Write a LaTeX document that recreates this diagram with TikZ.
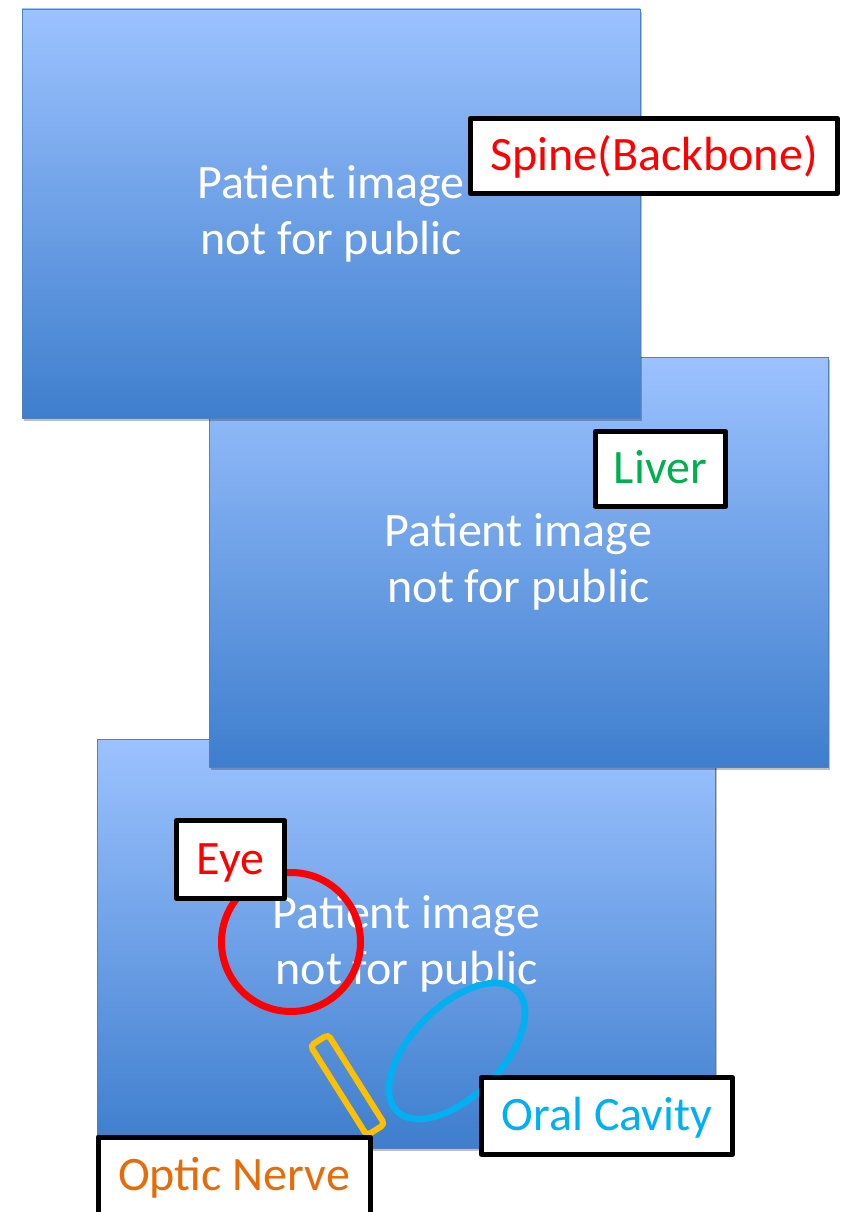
\documentclass[tikz,border=0pt]{standalone}
\usepackage{fontspec}
\setmainfont{Carlito}
\usetikzlibrary{shapes.geometric,shadows}
\definecolor{bluetop}{RGB}{156,194,255}
\definecolor{bluebot}{RGB}{62,126,205}
\definecolor{blueedge}{RGB}{79,129,189}
\definecolor{labred}{RGB}{255,0,0}
\definecolor{labgreen}{RGB}{0,176,80}
\definecolor{labcyan}{RGB}{0,176,240}
\definecolor{laborange}{RGB}{228,108,10}
\definecolor{nerveyellow}{RGB}{255,192,0}
\tikzset{
  imgbox/.style={rectangle, inner sep=0pt, minimum width=618pt, minimum height=409pt,
    top color=bluetop, bottom color=bluebot, draw=blueedge, line width=0.8pt,
    drop shadow={shadow xshift=1.5pt, shadow yshift=-3pt, opacity=0.25, fill=black},
    text=white, align=center, font=\fontsize{48}{56}\selectfont},
  labelbox/.style={rectangle, draw=black, fill=white, line width=5pt, line join=round,
    inner sep=0pt, minimum height=75pt, text height=37pt, text depth=8pt,
    font=\fontsize{48}{56}\selectfont},
}
\begin{document}
\begin{tikzpicture}[x=1pt,y=-1pt]
\useasboundingbox[fill=white] (0,0) rectangle (843,1212);
% image panels (bottom one first so upper ones overlap it)
\node[imgbox] (img3) at (406.5,943.5) {Patient image\\not for public};
\node[imgbox, minimum width=619pt, minimum height=410pt] (img2) at (518.5,562) {Patient image\\not for public};
\node[imgbox] (img1) at (331,213.5) {Patient image\\not for public};
% organ outlines
\node[ellipse, draw=labred, line width=7pt, minimum width=139pt, minimum height=139pt, inner sep=0pt] (eyering) at (291,942) {};
\node[ellipse, draw=labcyan, line width=6.5pt, minimum width=170pt, minimum height=90pt, inner sep=0pt, rotate=45] (oralring) at (457,1051) {};
\node[rectangle, draw=nerveyellow, line width=6pt, rounded corners=4pt, minimum width=106pt, minimum height=21pt, inner sep=0pt, rotate=-57.8] (nervebar) at (347.5,1085) {};
% labels
\node[labelbox, minimum width=367pt, text=labred] (spine) at (654,156) {Spine(Backbone)};
\node[labelbox, minimum width=130pt, text=labgreen] (liver) at (660.5,469) {Liver};
\node[labelbox, minimum width=108pt, minimum height=78pt, text=labred] (eye) at (230.5,859.5) {Eye};
\node[labelbox, minimum width=251pt, minimum height=77pt, text=labcyan] (oral) at (607,1116) {Oral Cavity};
\node[labelbox, minimum width=272pt, minimum height=78pt, text=laborange] (optic) at (234,1176) {Optic Nerve};
\end{tikzpicture}
\end{document}
